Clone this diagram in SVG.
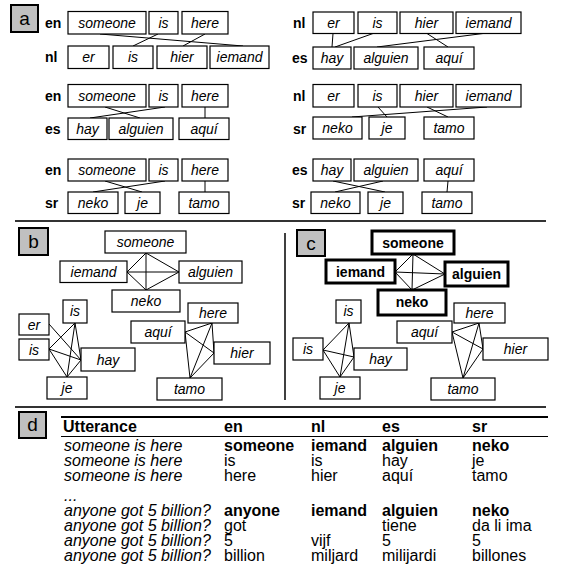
<svg xmlns="http://www.w3.org/2000/svg" width="561" height="586" viewBox="0 0 561 586">
<style>
text{font-family:"Liberation Sans",Arial,sans-serif}
.b{fill:#fff;stroke:#000;stroke-width:1.2}
.bt{fill:#fff;stroke:#000;stroke-width:3}
.t{font-size:14px;font-style:italic;text-anchor:middle}
.tb{font-size:14px;font-weight:bold;text-anchor:middle}
.lg{font-size:14px;font-weight:bold}
.pl{fill:#c0c0c0;stroke:#000;stroke-width:2}
.pt{font-size:19px;text-anchor:middle}
.e{stroke:#000;stroke-width:1;fill:none}
.sep{stroke:#333;stroke-width:2}
.d{font-size:16px}
.di{font-size:16px;font-style:italic}
.dh{font-size:16px;font-weight:bold}
</style>
<rect width="561" height="586" fill="#fff"/>

<!-- Panel labels -->
<g id="label-a"><rect class="pl" x="11" y="5" width="27" height="27"/><text class="pt" x="24.5" y="25">a</text></g>
<g id="label-b"><rect class="pl" x="19" y="228" width="29" height="27"/><text class="pt" x="33.5" y="248">b</text></g>
<g id="label-c"><rect class="pl" x="297" y="230" width="28" height="26"/><text class="pt" x="311" y="249.5">c</text></g>
<g id="label-d"><rect class="pl" x="19" y="412" width="27" height="26"/><text class="pt" x="32.5" y="431">d</text></g>

<!-- separators -->
<g id="separators">
<line class="sep" x1="15" y1="221" x2="546" y2="221"/>
<line class="sep" x1="15" y1="407" x2="546" y2="407"/>
<line x1="285" y1="233" x2="285" y2="400" stroke="#000" stroke-width="1.5"/>
</g>

<!-- Panel a connectors -->
<g id="connectors-a">
<line class="e" x1="100" y1="34" x2="243" y2="46"/>
<line class="e" x1="158" y1="34" x2="133" y2="46"/>
<line class="e" x1="205" y1="34" x2="183" y2="46"/>
<line class="e" x1="333" y1="33.5" x2="332" y2="47"/>
<line class="e" x1="373" y1="33.5" x2="335" y2="47"/>
<line class="e" x1="483" y1="33.5" x2="377" y2="47"/>
<line class="e" x1="427" y1="33.5" x2="448" y2="47"/>
<line class="e" x1="105" y1="107" x2="140" y2="118"/>
<line class="e" x1="165" y1="107" x2="90" y2="118"/>
<line class="e" x1="205" y1="107" x2="205" y2="118"/>
<line class="e" x1="378" y1="107" x2="387" y2="117"/>
<line class="e" x1="487" y1="107" x2="352" y2="117"/>
<line class="e" x1="427" y1="107" x2="448" y2="117"/>
<line class="e" x1="105" y1="181" x2="142" y2="192"/>
<line class="e" x1="165" y1="181" x2="93" y2="192"/>
<line class="e" x1="205" y1="181" x2="205" y2="192"/>
<line class="e" x1="333" y1="181" x2="385" y2="192"/>
<line class="e" x1="383" y1="181" x2="335" y2="192"/>
<line class="e" x1="448" y1="181" x2="447" y2="192"/>
</g>

<!-- Panel a rows -->
<g id="a-row1">
<text class="lg" x="45" y="28">en</text>
<text class="lg" x="45" y="62">nl</text>
<g id="a1-en-someone"><rect class="b" x="68" y="11.5" width="78" height="22.5"/><text class="t" x="107" y="27.5">someone</text></g>
<g id="a1-en-is"><rect class="b" x="149" y="11.5" width="29" height="22.5"/><text class="t" x="163.5" y="27.5">is</text></g>
<g id="a1-en-here"><rect class="b" x="182" y="11.5" width="46" height="22.5"/><text class="t" x="205" y="27.5">here</text></g>
<g id="a1-nl-er"><rect class="b" x="68" y="46" width="41" height="22.5"/><text class="t" x="88.5" y="62">er</text></g>
<g id="a1-nl-is"><rect class="b" x="113" y="46" width="40" height="22.5"/><text class="t" x="133" y="62">is</text></g>
<g id="a1-nl-hier"><rect class="b" x="157" y="46" width="50" height="22.5"/><text class="t" x="182" y="62">hier</text></g>
<g id="a1-nl-iemand"><rect class="b" x="210" y="46" width="59" height="22.5"/><text class="t" x="239.5" y="62">iemand</text></g>
</g>

<g id="a-row1r">
<text class="lg" x="293" y="28">nl</text>
<text class="lg" x="292" y="63">es</text>
<g id="a2-nl-er"><rect class="b" x="313" y="12" width="41" height="21.5"/><text class="t" x="333.5" y="27.5">er</text></g>
<g id="a2-nl-is"><rect class="b" x="358" y="12" width="39" height="21.5"/><text class="t" x="377.5" y="27.5">is</text></g>
<g id="a2-nl-hier"><rect class="b" x="400" y="12" width="53" height="21.5"/><text class="t" x="426.5" y="27.5">hier</text></g>
<g id="a2-nl-iemand"><rect class="b" x="456" y="12" width="65" height="21.5"/><text class="t" x="488.5" y="27.5">iemand</text></g>
<g id="a2-es-hay"><rect class="b" x="313" y="47" width="38" height="22"/><text class="t" x="332" y="63">hay</text></g>
<g id="a2-es-alguien"><rect class="b" x="354" y="47" width="64" height="22"/><text class="t" x="386" y="63">alguien</text></g>
<g id="a2-es-aqui"><rect class="b" x="424" y="47" width="50" height="22"/><text class="t" x="449" y="63">aquí</text></g>
</g>

<g id="a-row2">
<text class="lg" x="45" y="101">en</text>
<text class="lg" x="45" y="134">es</text>
<g id="a3-en-someone"><rect class="b" x="68" y="84.5" width="78" height="22.5"/><text class="t" x="107" y="100.5">someone</text></g>
<g id="a3-en-is"><rect class="b" x="149" y="84.5" width="29" height="22.5"/><text class="t" x="163.5" y="100.5">is</text></g>
<g id="a3-en-here"><rect class="b" x="182" y="84.5" width="46" height="22.5"/><text class="t" x="205" y="100.5">here</text></g>
<g id="a3-es-hay"><rect class="b" x="68" y="118" width="39" height="21.5"/><text class="t" x="87.5" y="133.5">hay</text></g>
<g id="a3-es-alguien"><rect class="b" x="109" y="118" width="64" height="21.5"/><text class="t" x="141" y="133.5">alguien</text></g>
<g id="a3-es-aqui"><rect class="b" x="179" y="118" width="50" height="21.5"/><text class="t" x="204" y="133.5">aquí</text></g>
</g>

<g id="a-row2r">
<text class="lg" x="293" y="101">nl</text>
<text class="lg" x="293" y="134">sr</text>
<g id="a4-nl-er"><rect class="b" x="313" y="84.5" width="41" height="22.5"/><text class="t" x="333.5" y="100.5">er</text></g>
<g id="a4-nl-is"><rect class="b" x="358" y="84.5" width="39" height="22.5"/><text class="t" x="377.5" y="100.5">is</text></g>
<g id="a4-nl-hier"><rect class="b" x="400" y="84.5" width="53" height="22.5"/><text class="t" x="426.5" y="100.5">hier</text></g>
<g id="a4-nl-iemand"><rect class="b" x="456" y="84.5" width="65" height="22.5"/><text class="t" x="488.5" y="100.5">iemand</text></g>
<g id="a4-sr-neko"><rect class="b" x="313" y="117" width="49" height="22"/><text class="t" x="337.5" y="133">neko</text></g>
<g id="a4-sr-je"><rect class="b" x="369" y="117" width="36" height="22"/><text class="t" x="387" y="133">je</text></g>
<g id="a4-sr-tamo"><rect class="b" x="424" y="117" width="50" height="22"/><text class="t" x="449" y="133">tamo</text></g>
</g>

<g id="a-row3">
<text class="lg" x="45" y="175">en</text>
<text class="lg" x="45" y="208">sr</text>
<g id="a5-en-someone"><rect class="b" x="68" y="159" width="78" height="22"/><text class="t" x="107" y="175">someone</text></g>
<g id="a5-en-is"><rect class="b" x="149" y="159" width="29" height="22"/><text class="t" x="163.5" y="175">is</text></g>
<g id="a5-en-here"><rect class="b" x="182" y="159" width="46" height="22"/><text class="t" x="205" y="175">here</text></g>
<g id="a5-sr-neko"><rect class="b" x="68" y="192" width="50" height="21.5"/><text class="t" x="93" y="207.5">neko</text></g>
<g id="a5-sr-je"><rect class="b" x="125" y="192" width="35" height="21.5"/><text class="t" x="142.5" y="207.5">je</text></g>
<g id="a5-sr-tamo"><rect class="b" x="179" y="192" width="50" height="21.5"/><text class="t" x="204" y="207.5">tamo</text></g>
</g>

<g id="a-row3r">
<text class="lg" x="292" y="175">es</text>
<text class="lg" x="292" y="208">sr</text>
<g id="a6-es-hay"><rect class="b" x="313" y="159" width="38" height="22"/><text class="t" x="332" y="175">hay</text></g>
<g id="a6-es-alguien"><rect class="b" x="354" y="159" width="64" height="22"/><text class="t" x="386" y="175">alguien</text></g>
<g id="a6-es-aqui"><rect class="b" x="424" y="159" width="50" height="22"/><text class="t" x="449" y="175">aquí</text></g>
<g id="a6-sr-neko"><rect class="b" x="311" y="192" width="49" height="21.5"/><text class="t" x="335.5" y="207.5">neko</text></g>
<g id="a6-sr-je"><rect class="b" x="368" y="192" width="35" height="21.5"/><text class="t" x="385.5" y="207.5">je</text></g>
<g id="a6-sr-tamo"><rect class="b" x="422" y="192" width="50" height="21.5"/><text class="t" x="447" y="207.5">tamo</text></g>
</g>

<!-- Panel b connectors -->
<g id="connectors-b">
<path class="e" d="M146 253L127 272M146 253L179 272M146 253L146 290M127 272L179 272M127 272L146 290M179 272L146 290"/>
<path class="e" d="M49 324L81 360M49 349L75 323M49 349L81 360M49 349L67 377M75 323L81 360M75 323L67 377M81 360L67 377"/>
<path class="e" d="M185 332L212 323M185 332L214 353M185 332L190 378M212 323L214 353M212 323L190 378M214 353L190 378"/>
</g>
<g id="panel-b">
<g id="b-someone"><rect class="b" x="105" y="231" width="81" height="22"/><text class="t" x="145.5" y="247">someone</text></g>
<g id="b-iemand"><rect class="b" x="60" y="261" width="67" height="21.5"/><text class="t" x="93.5" y="277">iemand</text></g>
<g id="b-alguien"><rect class="b" x="179" y="261" width="63" height="22"/><text class="t" x="210.5" y="277">alguien</text></g>
<g id="b-neko"><rect class="b" x="112" y="290" width="68" height="22"/><text class="t" x="146" y="306">neko</text></g>
<g id="b-is-en"><rect class="b" x="63" y="300" width="24" height="23"/><text class="t" x="75" y="316">is</text></g>
<g id="b-here"><rect class="b" x="188" y="303" width="50" height="20"/><text class="t" x="213" y="318">here</text></g>
<g id="b-er"><rect class="b" x="19" y="314" width="30" height="21"/><text class="t" x="34" y="329.5">er</text></g>
<g id="b-is-nl"><rect class="b" x="19" y="339" width="30" height="21"/><text class="t" x="34" y="354.5">is</text></g>
<g id="b-hay"><rect class="b" x="81" y="348" width="54" height="23"/><text class="t" x="108" y="364.5">hay</text></g>
<g id="b-je"><rect class="b" x="47" y="377" width="40" height="22"/><text class="t" x="67" y="393">je</text></g>
<g id="b-aqui"><rect class="b" x="131" y="321" width="54" height="22"/><text class="t" x="158" y="337">aquí</text></g>
<g id="b-hier"><rect class="b" x="214" y="342" width="56" height="22"/><text class="t" x="242" y="358">hier</text></g>
<g id="b-tamo"><rect class="b" x="157" y="378" width="65" height="22"/><text class="t" x="189.5" y="394">tamo</text></g>
</g>

<!-- Panel c connectors -->
<g id="connectors-c">
<path class="e" d="M413 254L395 272M413 254L445 274M413 254L412 290M395 272L445 274M395 272L412 290M445 274L412 290"/>
<path class="e" d="M349 323L323 350M349 323L354 357M349 323L340 377M323 350L354 357M323 350L340 377M354 357L340 377"/>
<path class="e" d="M452 332L479 323M452 332L483 349M452 332L463 378M479 323L483 349M479 323L463 378M483 349L463 378"/>
</g>
<g id="panel-c">
<g id="c-someone"><rect class="bt" x="372" y="231" width="82" height="23"/><text class="tb" x="413" y="247.5">someone</text></g>
<g id="c-iemand"><rect class="bt" x="326" y="260" width="69" height="23"/><text class="tb" x="360.5" y="276.5">iemand</text></g>
<g id="c-alguien"><rect class="bt" x="445" y="262" width="63" height="24"/><text class="tb" x="476.5" y="279">alguien</text></g>
<g id="c-neko"><rect class="bt" x="378" y="290" width="68" height="25"/><text class="tb" x="412" y="307">neko</text></g>
<g id="c-is-en"><rect class="b" x="336" y="300" width="25" height="23"/><text class="t" x="348.5" y="316">is</text></g>
<g id="c-here"><rect class="b" x="454" y="303" width="51" height="20"/><text class="t" x="479.5" y="318">here</text></g>
<g id="c-is-nl"><rect class="b" x="293" y="338" width="30" height="22"/><text class="t" x="308" y="354">is</text></g>
<g id="c-hay"><rect class="b" x="354" y="348" width="53" height="22"/><text class="t" x="380.5" y="364">hay</text></g>
<g id="c-je"><rect class="b" x="320" y="377" width="40" height="22"/><text class="t" x="340" y="393">je</text></g>
<g id="c-aqui"><rect class="b" x="397" y="321" width="55" height="22"/><text class="t" x="424.5" y="337">aquí</text></g>
<g id="c-hier"><rect class="b" x="483" y="338" width="65" height="22"/><text class="t" x="515.5" y="354">hier</text></g>
<g id="c-tamo"><rect class="b" x="431" y="378" width="64" height="22"/><text class="t" x="463" y="394">tamo</text></g>
</g>

<!-- Panel d table -->
<g id="table-d">
<line x1="61" y1="417" x2="548" y2="417" stroke="#000" stroke-width="2"/>
<line x1="61" y1="436.5" x2="548" y2="436.5" stroke="#000" stroke-width="1"/>
<text class="dh" x="63" y="432">Utterance</text>
<text class="dh" x="224" y="432">en</text>
<text class="dh" x="311" y="432">nl</text>
<text class="dh" x="382" y="432">es</text>
<text class="dh" x="472" y="432">sr</text>

<text class="di" x="64" y="451">someone is here</text>
<text class="dh" x="224" y="451">someone</text>
<text class="dh" x="311" y="451">iemand</text>
<text class="dh" x="382" y="451">alguien</text>
<text class="dh" x="472" y="451">neko</text>

<text class="di" x="64" y="466">someone is here</text>
<text class="d" x="224" y="466">is</text>
<text class="d" x="311" y="466">is</text>
<text class="d" x="382" y="466">hay</text>
<text class="d" x="472" y="466">je</text>

<text class="di" x="64" y="481">someone is here</text>
<text class="d" x="224" y="481">here</text>
<text class="d" x="311" y="481">hier</text>
<text class="d" x="382" y="481">aquí</text>
<text class="d" x="472" y="481">tamo</text>

<text class="di" x="64" y="501">...</text>

<text class="di" x="64" y="516">anyone got 5 billion?</text>
<text class="dh" x="224" y="516">anyone</text>
<text class="dh" x="311" y="516">iemand</text>
<text class="dh" x="382" y="516">alguien</text>
<text class="dh" x="472" y="516">neko</text>

<text class="di" x="64" y="531">anyone got 5 billion?</text>
<text class="d" x="224" y="531">got</text>
<text class="d" x="382" y="531">tiene</text>
<text class="d" x="472" y="531">da li ima</text>

<text class="di" x="64" y="546">anyone got 5 billion?</text>
<text class="d" x="224" y="546">5</text>
<text class="d" x="311" y="546">vijf</text>
<text class="d" x="382" y="546">5</text>
<text class="d" x="472" y="546">5</text>

<text class="di" x="64" y="561">anyone got 5 billion?</text>
<text class="d" x="224" y="561">billion</text>
<text class="d" x="311" y="561">miljard</text>
<text class="d" x="382" y="561">milijardi</text>
<text class="d" x="472" y="561">billones</text>
</g>
</svg>
